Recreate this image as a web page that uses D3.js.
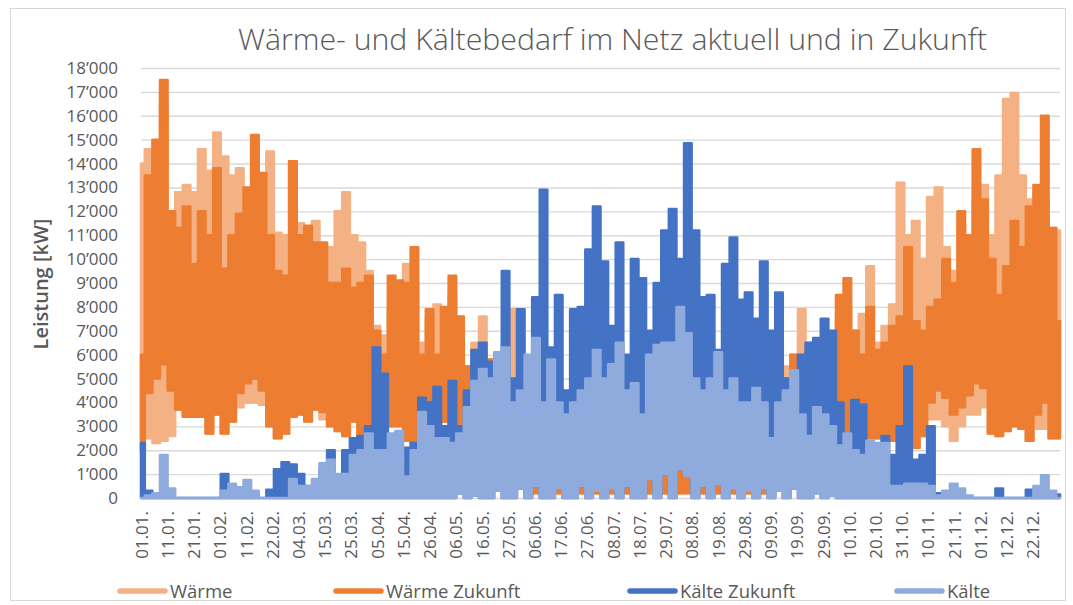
<!DOCTYPE html>
<html>
<head>
<meta charset="utf-8">
<script src="https://cdn.jsdelivr.net/npm/d3@7/dist/d3.min.js"></script>
<style>
	body { margin: 0; background: #fff; }
	svg { display: block; font-family: "Open Sans", "Noto Sans", sans-serif; }
</style>
</head>
<body>
<svg id="chart" width="1073" height="605"></svg>
<script>
// hourly data over one year, read off as envelope: daily peaks (Max) and night lows (Min)
// one point every ~3 days, values in 1000 kW
const waermeMax = [
	14.0, 14.6, 14.0, 16.5, 11.5, 12.8, 13.1, 12.8, 14.6, 13.7, 15.3, 14.3, 13.5, 13.8, 12.0, 13.5, 12.5, 14.5, 11.1, 11.0, 14.1,
	11.5, 11.0, 11.6, 10.5, 10.5, 12.0, 12.8, 11.0, 10.7, 9.5, 7.2, 6.8, 8.0, 8.5, 9.8, 9.0, 6.5, 7.5, 8.1, 7.9,
	8.5, 7.0, 5.5, 6.5, 7.6, 5.8, 5.0, 4.0, 7.9, 3.0, 1.8, 1.2, 1.0, 1.0, 1.2, 1.0, 1.2, 1.0, 0.8, 1.0,
	0.8, 0.8, 0.8, 0.8, 0.8, 0.8, 0.8, 1.0, 1.0, 1.0, 1.5, 1.5, 0.9, 0.7, 0.7, 0.7, 0.7, 0.7, 0.7, 0.5,
	0.5, 0.5, 0.6, 1.0, 5.5, 6.0, 7.9, 6.5, 5.0, 4.5, 5.5, 7.5, 8.0, 7.0, 7.7, 9.7, 6.5, 7.2, 8.1, 13.2,
	11.0, 11.6, 10.0, 12.6, 13.0, 10.5, 9.5, 11.5, 11.0, 12.5, 13.1, 11.0, 13.5, 16.7, 16.95, 13.5, 12.5, 12.0, 12.5, 11.3, 11.2
];
const waermeMin = [
	1.9, 2.5, 2.3, 2.4, 2.6, 3.7, 3.4, 3.4, 3.4, 2.7, 3.5, 2.7, 3.2, 3.8, 4.0, 4.0, 3.9, 3.0, 2.5, 2.7, 3.4,
	3.5, 3.2, 3.7, 3.3, 3.0, 2.8, 2.6, 3.2, 2.6, 2.4, 3.0, 3.0, 3.0, 3.0, 2.4, 2.3, 3.5, 3.0, 2.3, 3.2,
	3.0, 2.5, 2.5, 2.0, 2.0, 1.0, 0.8, 0.5, 0.5, 0.4, 0.2, 0.2, 0.2, 0.2, 0.2, 0.2, 0.2, 0.2, 0.2, 0.2,
	0.2, 0.2, 0.2, 0.2, 0.2, 0.2, 0.2, 0.2, 0.2, 0.2, 0.2, 0.2, 0.2, 0.2, 0.2, 0.2, 0.2, 0.2, 0.2, 0.2,
	0.2, 0.2, 0.2, 0.3, 0.8, 1.0, 1.2, 1.0, 1.0, 1.2, 1.5, 2.5, 2.5, 3.0, 2.7, 2.5, 2.5, 2.5, 2.4, 2.4,
	2.5, 2.1, 2.6, 3.3, 3.3, 3.0, 2.4, 3.0, 3.5, 3.5, 3.8, 2.7, 2.6, 2.8, 3.0, 2.9, 2.4, 2.9, 2.9, 2.5, 2.5
];
const waermeZukunftMax = [
	6.0, 13.5, 15.0, 17.5, 12.0, 11.3, 12.2, 9.8, 12.0, 11.0, 13.8, 9.6, 11.0, 11.9, 13.0, 15.2, 13.6, 11.0, 9.5, 9.3, 14.1,
	11.0, 11.4, 10.7, 10.7, 9.0, 9.0, 9.6, 8.8, 9.0, 9.3, 7.0, 6.0, 9.3, 9.1, 9.0, 10.5, 6.0, 7.9, 6.0, 8.0,
	9.3, 7.6, 5.5, 4.5, 4.0, 5.8, 5.8, 3.0, 4.0, 2.0, 1.5, 1.2, 1.0, 1.0, 1.2, 1.0, 1.2, 1.0, 0.8, 1.0,
	0.8, 0.8, 0.8, 0.8, 0.8, 0.8, 0.8, 1.0, 1.0, 1.0, 1.5, 1.4, 0.9, 0.7, 0.7, 0.7, 0.7, 0.7, 0.7, 0.5,
	0.5, 0.5, 0.6, 1.0, 5.0, 6.0, 5.5, 6.2, 5.0, 4.5, 5.5, 8.5, 9.2, 7.0, 6.0, 8.0, 6.2, 6.5, 7.2, 7.6,
	10.5, 7.4, 7.0, 8.0, 8.3, 10.0, 9.0, 12.0, 11.0, 14.6, 12.5, 10.0, 8.5, 9.7, 11.6, 10.5, 12.2, 13.1, 16.0, 11.3, 7.4
];
const waermeZukunftMin = [
	1.9, 4.4, 5.0, 5.6, 4.5, 3.7, 3.4, 3.4, 3.4, 2.7, 3.5, 2.7, 3.2, 4.4, 4.8, 5.0, 4.5, 3.0, 2.5, 2.7, 3.4,
	3.5, 3.2, 3.7, 3.6, 3.0, 2.8, 2.6, 3.2, 2.6, 2.4, 3.0, 3.0, 3.0, 3.0, 2.4, 2.3, 3.5, 3.0, 2.3, 3.2,
	3.0, 2.5, 2.5, 2.0, 2.0, 1.0, 0.8, 0.5, 0.5, 0.4, 0.2, 0.2, 0.2, 0.2, 0.2, 0.2, 0.2, 0.2, 0.2, 0.2,
	0.2, 0.2, 0.2, 0.2, 0.2, 0.2, 0.2, 0.2, 0.2, 0.2, 0.2, 0.2, 0.2, 0.2, 0.2, 0.2, 0.2, 0.2, 0.2, 0.2,
	0.2, 0.2, 0.2, 0.3, 0.8, 1.0, 1.2, 1.0, 1.0, 1.2, 1.5, 2.5, 2.5, 3.0, 2.7, 2.5, 2.5, 2.5, 2.4, 2.4,
	2.5, 2.1, 2.6, 4.0, 4.5, 4.2, 3.5, 3.8, 4.3, 4.8, 4.6, 2.7, 2.6, 2.8, 3.0, 2.9, 2.4, 3.5, 4.0, 2.5, 2.5
];
const kaelteZukunftMax = [
	2.3, 0.3, 0, 0, 0, 0, 0, 0, 0, 0, 0, 1.0, 0, 0, 0, 0, 0, 0.35, 1.2, 1.5, 1.4,
	1.0, 0.5, 0.3, 1.2, 2.0, 0.7, 2.0, 2.5, 2.6, 3.0, 6.3, 5.2, 2.5, 2.0, 2.1, 2.3, 4.2, 4.0, 4.65, 3.0,
	4.9, 3.0, 4.5, 6.2, 6.5, 5.7, 5.7, 9.5, 5.0, 7.9, 4.0, 8.4, 12.9, 6.3, 8.5, 4.5, 7.9, 8.0, 10.4, 12.2,
	9.9, 7.2, 10.7, 6.0, 10.0, 9.2, 7.0, 9.0, 11.2, 12.1, 10.0, 14.85, 11.2, 8.4, 8.5, 6.2, 9.8, 10.9, 8.3, 8.6,
	7.5, 9.9, 7.0, 8.6, 5.0, 4.0, 6.0, 6.5, 6.7, 7.5, 7.0, 4.0, 2.5, 4.1, 3.9, 2.0, 2.0, 2.6, 1.8, 3.0,
	5.5, 1.6, 1.8, 3.0, 0.2, 0, 0, 0, 0, 0, 0, 0, 0.4, 0, 0, 0, 0.35, 0, 0, 0, 0.15
];
const kaelteZukunftMin = [
	0, 0, 0, 0, 0, 0, 0, 0, 0, 0, 0, 0, 0, 0, 0, 0, 0, 0, 0, 0, 0,
	0, 0, 0, 0, 0, 0, 0, 0, 0, 0, 0, 0, 0, 0, 0, 0, 0, 0, 0, 0,
	0, 0.2, 0, 0.1, 0, 0, 0.3, 0, 0, 0.4, 0, 0.5, 0, 0, 0.4, 0, 0, 0.5, 0, 0.3,
	0, 0.4, 0, 0.5, 0, 0, 0.8, 0, 1.0, 0, 1.2, 0.9, 0, 0.5, 0, 0.6, 0, 0.4, 0, 0.3,
	0, 0.4, 0, 0.3, 0, 0.4, 0, 0, 0.2, 0, 0.1, 0, 0, 0, 0, 0, 0, 0, 0, 0,
	0, 0, 0, 0, 0, 0, 0, 0, 0, 0, 0, 0, 0, 0, 0, 0, 0, 0, 0, 0, 0
];
const kaelteMax = [
	0, 0.1, 0.2, 1.8, 0.4, 0, 0, 0, 0, 0, 0, 0.3, 0.6, 0.45, 0.75, 0.3, 0, 0, 0, 0, 0.8,
	0.5, 0.5, 0.8, 1.45, 1.6, 1.0, 1.0, 1.8, 2.0, 2.7, 2.0, 2.0, 2.7, 2.8, 0.9, 2.0, 3.6, 3.0, 2.5, 2.5,
	2.3, 2.7, 3.8, 4.9, 5.4, 5.0, 6.1, 6.3, 4.0, 4.5, 6.0, 6.7, 4.0, 5.8, 4.0, 3.5, 4.0, 4.5, 5.0, 6.2,
	5.0, 5.6, 6.5, 4.5, 4.8, 3.5, 6.0, 6.4, 6.5, 6.5, 8.0, 6.9, 5.0, 4.5, 5.0, 6.1, 4.5, 5.0, 4.0, 4.0,
	4.6, 4.0, 2.5, 4.0, 4.5, 5.35, 3.5, 2.6, 3.8, 3.5, 3.0, 2.2, 2.7, 2.0, 1.8, 2.4, 2.3, 2.3, 0.5, 0.5,
	0.6, 0.6, 0.6, 0.5, 0.1, 0.3, 0.6, 0.4, 0.1, 0, 0, 0, 0, 0, 0, 0, 0, 0.5, 0.95, 0.3, 0
];
const kaelteMin = [
	0, 0, 0, 0, 0, 0, 0, 0, 0, 0, 0, 0, 0, 0, 0, 0, 0, 0, 0, 0, 0,
	0, 0, 0, 0, 0, 0, 0, 0, 0, 0, 0, 0, 0, 0, 0, 0, 0, 0, 0, 0,
	0, 0.2, 0, 0.1, 0, 0, 0.3, 0, 0, 0.4, 0, 0.5, 0, 0, 0.4, 0, 0, 0.5, 0, 0.3,
	0, 0.4, 0, 0.5, 0, 0, 0.8, 0, 1.0, 0, 1.2, 0.9, 0, 0.5, 0, 0.6, 0, 0.4, 0, 0.3,
	0, 0.4, 0, 0.3, 0, 0.4, 0, 0, 0.2, 0, 0.1, 0, 0, 0, 0, 0, 0, 0, 0, 0,
	0, 0, 0, 0, 0, 0, 0, 0, 0, 0, 0, 0, 0, 0, 0, 0, 0, 0, 0, 0, 0
];

const seriesNames = ["Wärme", "Wärme Zukunft", "Kälte Zukunft", "Kälte"];
const seriesColors = ["#F4B183", "#ED7D31", "#4472C4", "#8FAADC"];

// category labels, one every 250 hours
const tickLabels = [
	"01.01.", "11.01.", "21.01.", "01.02.", "11.02.", "22.02.", "04.03.", "15.03.", "25.03.", "05.04.",
	"15.04.", "26.04.", "06.05.", "16.05.", "27.05.", "06.06.", "17.06.", "27.06.", "08.07.", "18.07.",
	"29.07.", "08.08.", "19.08.", "29.08.", "09.09.", "19.09.", "29.09.", "10.10.", "20.10.", "31.10.",
	"10.11.", "21.11.", "01.12.", "12.12.", "22.12."
];
const tickHours = [
	0, 250, 500, 750, 1000, 1250, 1500, 1750, 2000, 2250, 2500, 2750, 3000, 3250, 3500, 3750, 4000, 4250,
	4500, 4750, 5000, 5250, 5500, 5750, 6000, 6250, 6500, 6750, 7000, 7250, 7500, 7750, 8000, 8250, 8500
];
const yTickValues = [0, 1000, 2000, 3000, 4000, 5000, 6000, 7000, 8000, 9000, 10000, 11000, 12000, 13000, 14000, 15000, 16000, 17000, 18000];

const HOURS = 8760;
const grey_text = "#595959";
const grid_color = "#d9d9d9";

const swissFormat = d3.formatLocale({ decimal: ".", thousands: "’", grouping: [3], currency: ["", ""] }).format(",");

const svg = d3.select("#chart");

const x = d3.scaleLinear().domain([0, HOURS]).range([141, 1060]);
const y = d3.scaleLinear().domain([0, 18000]).range([498, 68]);

// chart border
svg.append("rect")
	.attr("x", 10.5).attr("y", 8.5)
	.attr("width", 1055).attr("height", 592)
	.attr("fill", "#fff")
	.attr("stroke", grid_color);

// title
svg.append("text")
	.attr("x", 612.5).attr("y", 50)
	.attr("text-anchor", "middle")
	.attr("font-size", 29)
	.attr("font-weight", 300)
	.attr("fill", grey_text)
	.attr("textLength", 749)
	.attr("lengthAdjust", "spacingAndGlyphs")
	.text("Wärme- und Kältebedarf im Netz aktuell und in Zukunft");

// y axis with gridlines
const yAxis = svg.append("g")
	.attr("transform", `translate(${x.range()[0]},0)`)
	.call(d3.axisLeft(y)
		.tickValues(yTickValues)
		.tickSize(-(x.range()[1] - x.range()[0]))
		.tickPadding(23)
		.tickFormat(swissFormat));
yAxis.select(".domain").remove();
yAxis.selectAll("line").attr("stroke", grid_color).attr("stroke-width", 1.4);
yAxis.selectAll("text")
	.attr("fill", grey_text)
	.attr("font-size", 17)
	.attr("font-family", "Open Sans");

// y title
svg.append("text")
	.attr("transform", "translate(48,284) rotate(-90)")
	.attr("text-anchor", "middle")
	.attr("font-size", 20)
	.attr("font-weight", 600)
	.attr("fill", grey_text)
	.text("Leistung [kW]");

// series, drawn as stepped envelope between lows and peaks
const bandData = [
	[waermeMin, waermeMax],
	[waermeZukunftMin, waermeZukunftMax],
	[kaelteZukunftMin, kaelteZukunftMax],
	[kaelteMin, kaelteMax]
];

const plot = svg.append("g");

bandData.forEach((pair, s) => {
	const lows = pair[0];
	const highs = pair[1];
	const n = highs.length;
	const points = highs.map((v, i) => ({ h: i * HOURS / (n - 1), lo: lows[i] * 1000, hi: v * 1000 }));

	const area = d3.area()
		.curve(d3.curveStep)
		.x(d => x(d.h))
		.y0(d => y(d.lo))
		.y1(d => y(d.hi));

	plot.append("path")
		.datum(points)
		.attr("d", area)
		.attr("fill", seriesColors[s])
		.attr("stroke", seriesColors[s])
		.attr("stroke-width", 2.5)
		.attr("stroke-linejoin", "round");
});

// x labels, rotated
const xAxis = svg.append("g")
	.attr("transform", "translate(0,498)")
	.call(d3.axisBottom(x)
		.tickValues(tickHours)
		.tickSize(0)
		.tickFormat((d, i) => tickLabels[i]));
xAxis.select(".domain").remove();
xAxis.selectAll("text")
	.attr("transform", "rotate(-90)")
	.attr("text-anchor", "end")
	.attr("x", -13)
	.attr("y", 0)
	.attr("dy", "0.36em")
	.attr("fill", grey_text)
	.attr("font-size", 17)
	.attr("font-family", "Open Sans");

// legend
const legendLineX = [118, 334, 628, 895];
const legend = svg.append("g");
seriesNames.forEach((name, i) => {
	legend.append("line")
		.attr("x1", legendLineX[i] + 2).attr("x2", legendLineX[i] + 47)
		.attr("y1", 591).attr("y2", 591)
		.attr("stroke", seriesColors[i])
		.attr("stroke-width", 5.5)
		.attr("stroke-linecap", "round");
	legend.append("text")
		.attr("x", legendLineX[i] + 52)
		.attr("y", 598)
		.attr("font-size", 18.5)
		.attr("fill", grey_text)
		.text(name);
});
</script>
</body>
</html>
